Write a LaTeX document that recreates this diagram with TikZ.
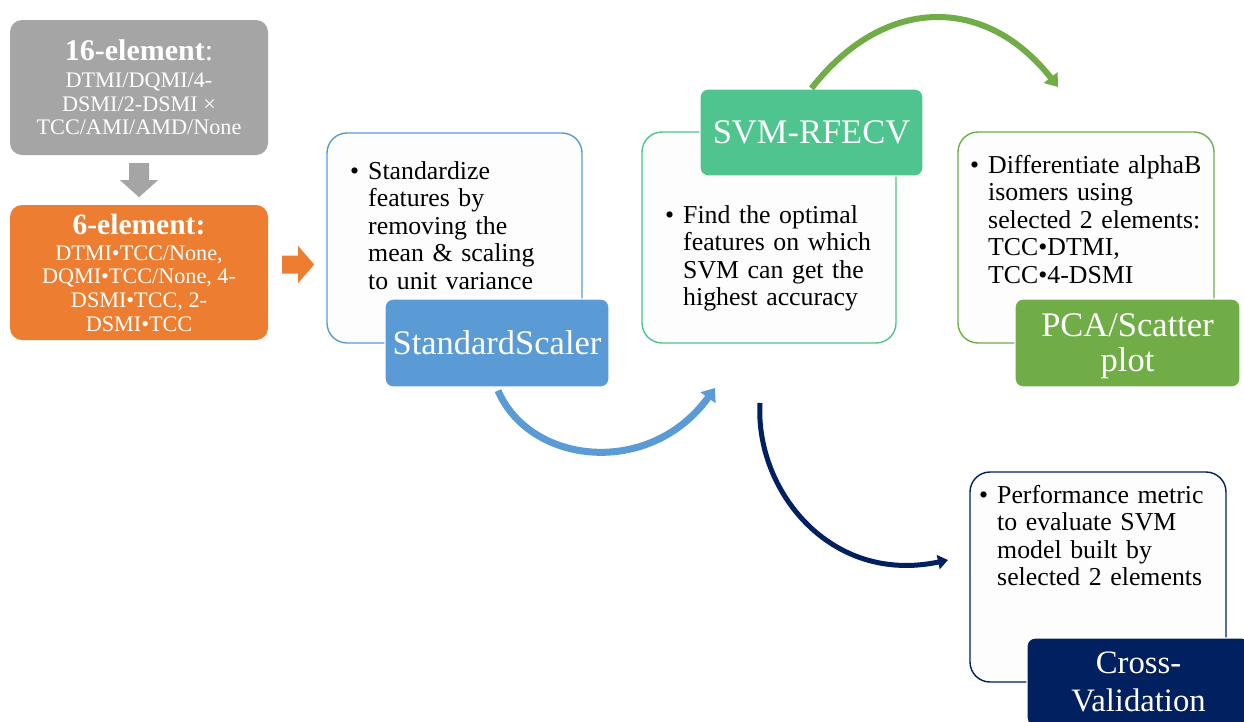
\documentclass[tikz,border=0pt]{standalone}
\usepackage{fontspec}
\setmainfont{Liberation Serif}
\usetikzlibrary{arrows.meta,calc}
\definecolor{cgray}{HTML}{A5A5A5}
\definecolor{corange}{HTML}{ED7D31}
\definecolor{cblue}{HTML}{5B9BD5}
\definecolor{cteal}{HTML}{4FC48F}
\definecolor{cgreen}{HTML}{70AD47}
\definecolor{cnavy}{HTML}{002060}
\definecolor{cpaper}{HTML}{FDFDFD}
\begin{document}
\begin{tikzpicture}[x=1pt,y=-1pt,
  inputbox/.style={rounded corners=12pt, fill=#1, text=white, align=center, inner sep=0pt,
    minimum width=258pt, minimum height=135pt, font=\fontsize{22.2}{23.6}\selectfont},
  outlinebox/.style={rounded corners=20pt, draw=#1, line width=1.4pt, fill=cpaper,
    minimum width=255pt, minimum height=210pt, inner sep=0pt},
  titlebox/.style={rounded corners=8pt, fill=#1, draw=white, line width=1.2pt, text=white,
    align=center, inner sep=0pt, minimum width=224pt, minimum height=88pt,
    font=\fontsize{34.5}{35}\selectfont},
  bodytext/.style={anchor=north west, inner sep=0pt, align=left, text width=240pt,
    font=\fontsize{25.8}{27.5}\selectfont},
  arc/.style={line width=#1},
]
\useasboundingbox[fill=white] (0,0) rectangle (1244,721);

% input boxes
\node[inputbox=cgray] (g16) at (139,87.5)
  {{\fontsize{30}{30}\selectfont\bfseries 16-element\mdseries:}\\[3.4pt]
   DTMI/DQMI/4-\\ DSMI/2-DSMI ×\\ TCC/AMI/AMD/None};
\node[inputbox=corange] (o6) at (139,272.5)
  {{\fontsize{29.5}{30}\selectfont\bfseries 6-element:}\\[2.4pt]
   DTMI•TCC/None,\\ DQMI•TCC/None, 4-\\ DSMI•TCC, 2-\\ DSMI•TCC};

% block arrows
\begin{scope}[shift={(g16.south)}]
  \fill[cgray] (-10,8) -- (10,8) -- (10,25) -- (19,25) -- (0,42) -- (-19,25) -- (-10,25) -- cycle;
\end{scope}
\begin{scope}[shift={(o6.east)}]
  \fill[corange] (14,-17) -- (30,-17) -- (30,-26.5) -- (46,-8) -- (30,10.5) -- (30,1) -- (14,1) -- cycle;
\end{scope}

% step 1
\node[outlinebox=cblue] (b1) at (454.5,238) {};
\node[bodytext] (t1) at (368,159.75)
  {\strut\llap{\textbullet\hspace{9pt}}Standardize\\ features by\\ removing the\\ mean \& scaling\\ to unit variance};
\node[titlebox=cblue] (scaler) at (497,343) {StandardScaler};

% step 2
\node[outlinebox=cteal, minimum width=254pt, minimum height=211pt] (b2) at (769,237.5) {};
\node[bodytext] (t2) at (683,203.75)
  {\strut\llap{\textbullet\hspace{9pt}}Find the optimal\\ features on which\\ SVM can get the\\ highest accuracy};
\node[titlebox=cteal, minimum width=223pt, minimum height=87pt] (svm) at (811.5,132.5) {SVM-RFECV};

% step 3
\node[outlinebox=cgreen, minimum width=256pt, minimum height=211pt] (b3) at (1086,237.5) {};
\node[bodytext] (t3) at (988,153.75)
  {\strut\llap{\textbullet\hspace{9pt}}Differentiate alphaB\\ isomers using\\ selected 2 elements:\\ TCC•DTMI,\\ TCC•4-DSMI};
\node[titlebox=cgreen, minimum width=225pt, text depth=0pt] (pca) at (1127.5,343) {PCA/Scatter\\ plot};

% step 4
\node[outlinebox=cnavy, minimum width=256pt] (b4) at (1098,577) {};
\node[bodytext] (t4) at (997,483.75)
  {\strut\llap{\textbullet\hspace{9pt}}Performance metric\\ to evaluate SVM\\ model built by\\ selected 2 elements};
\node[titlebox=cnavy, minimum width=223pt, font=\fontsize{32.7}{38.5}\selectfont] (cv) at (1138.5,682) {Cross-\\ Validation};

% curved arrows
\coordinate (blueS) at ($(scaler.south)+(1,3)$);
\coordinate (blueE) at (715,388);
\draw[cblue, arc=7pt, -{Triangle[width=18pt,length=12pt]}]
  (blueS) .. controls (530,465) and (650,478) .. (blueE);

\coordinate (greenS) at (svm.north);
\coordinate (greenE) at (1058,87);
\draw[cgreen, arc=6pt, -{Triangle[width=17pt,length=12pt]}]
  (greenS) .. controls (884,-5) and (986,-5) .. (greenE);

\coordinate (navyS) at (760,403);
\coordinate (navyE) at (948,560);
\draw[cnavy, arc=5pt, -{Triangle[width=14pt,length=10pt]}]
  (navyS) .. controls (755,490) and (830,585) .. (navyE);
\end{tikzpicture}
\end{document}
